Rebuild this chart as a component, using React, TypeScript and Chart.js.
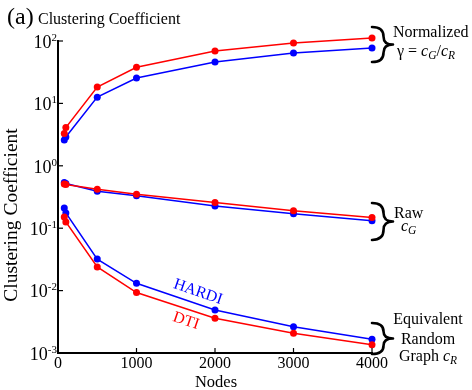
import React, { useEffect, useRef } from "react";
import { Chart, registerables } from "chart.js";

Chart.register(...registerables);

const nodes = [80, 100, 500, 1000, 2000, 3000, 4000];
const dtiNormalized = [3.3, 4.1, 18.3, 38, 69, 93, 112];
const hardiNormalized = [2.6, 2.9, 12.6, 25.5, 46, 64, 77];
const dtiRaw = [0.51, 0.5, 0.42, 0.35, 0.257, 0.19, 0.149];
const hardiRaw = [0.54, 0.52, 0.39, 0.33, 0.227, 0.171, 0.132];
const dtiRandom = [0.151, 0.126, 0.0239, 0.0093, 0.0036, 0.00207, 0.00136];
const hardiRandom = [0.21, 0.175, 0.032, 0.0131, 0.0049, 0.00264, 0.00166];

const yTickValues = [100, 10, 1, 0.1, 0.01, 0.001];
const yTickExponents = ["2", "1", "0", "-1", "-2", "-3"];
const xTickValues = [0, 1000, 2000, 3000, 4000];

const RED = "#ff0000";
const BLUE = "#0000ff";
const SERIF = '"Liberation Serif", "Times New Roman", serif';

const toPts = (ys: number[]) => nodes.map((x, i) => ({ x, y: ys[i] }));

function mkSet(label: string, ys: number[], color: string) {
  return {
    label,
    data: toPts(ys),
    borderColor: color,
    backgroundColor: color,
    borderWidth: 1.5,
    pointRadius: 3.5,
    pointHoverRadius: 3.5,
    pointBorderWidth: 0,
    showLine: true,
    tension: 0,
    clip: false as any,
  };
}

function drawBrace(ctx: CanvasRenderingContext2D, x: number, top: number, bottom: number, w: number) {
  const mid = (top + bottom) / 2;
  const h = (bottom - top) / 2;
  ctx.save();
  ctx.strokeStyle = "#000";
  ctx.lineWidth = 2.6;
  ctx.lineCap = "round";
  ctx.lineJoin = "round";
  ctx.beginPath();
  ctx.moveTo(x, top);
  ctx.bezierCurveTo(x + w * 0.45, top, x + w * 0.55, top + h * 0.25, x + w * 0.55, top + h * 0.55);
  ctx.bezierCurveTo(x + w * 0.55, mid - h * 0.12, x + w * 0.75, mid, x + w, mid);
  ctx.bezierCurveTo(x + w * 0.75, mid, x + w * 0.55, mid + h * 0.12, x + w * 0.55, bottom - h * 0.55);
  ctx.bezierCurveTo(x + w * 0.55, bottom - h * 0.25, x + w * 0.45, bottom, x, bottom);
  ctx.stroke();
  ctx.restore();
}

function drawRich(
  ctx: CanvasRenderingContext2D,
  parts: { t: string; it?: boolean; sub?: boolean }[],
  x: number,
  y: number,
  size: number,
  align: "left" | "center" = "left"
) {
  const fontFor = (p: { it?: boolean; sub?: boolean }) =>
    `${p.it ? "italic " : ""}${p.sub ? size * 0.72 : size}px ${SERIF}`;
  let total = 0;
  for (const p of parts) {
    ctx.font = fontFor(p);
    total += ctx.measureText(p.t).width;
  }
  let cx = align === "center" ? x - total / 2 : x;
  ctx.textAlign = "left";
  ctx.textBaseline = "middle";
  for (const p of parts) {
    ctx.font = fontFor(p);
    ctx.fillText(p.t, cx, p.sub ? y + size * 0.25 : y);
    cx += ctx.measureText(p.t).width;
  }
}

const decorPlugin = {
  id: "decor",
  afterDraw(chart: any) {
    const ctx: CanvasRenderingContext2D = chart.ctx;
    const xs = chart.scales.x;
    const ys = chart.scales.y;
    const area = chart.chartArea;
    ctx.save();
    ctx.fillStyle = "#000";
    ctx.strokeStyle = "#000";
    ctx.lineWidth = 1.2;

    yTickValues.forEach((v, i) => {
      const py = ys.getPixelForValue(v);
      ctx.beginPath();
      ctx.moveTo(area.left, py);
      ctx.lineTo(area.left + 5, py);
      ctx.stroke();
      ctx.font = `11px ${SERIF}`;
      const ew = ctx.measureText(yTickExponents[i]).width;
      ctx.textAlign = "left";
      ctx.textBaseline = "middle";
      ctx.fillText(yTickExponents[i], area.left - 1 - ew, py - 3);
      ctx.font = `18px ${SERIF}`;
      ctx.textAlign = "right";
      ctx.fillText("10", area.left - 1 - ew, py + 2);
    });

    xTickValues.forEach((v) => {
      const px = xs.getPixelForValue(v);
      ctx.beginPath();
      ctx.moveTo(px, area.bottom);
      ctx.lineTo(px, area.bottom - 5);
      ctx.stroke();
      ctx.font = `16px ${SERIF}`;
      ctx.textAlign = "center";
      ctx.textBaseline = "middle";
      ctx.fillText(String(v), px, area.bottom + 11);
    });

    ctx.font = `16.5px ${SERIF}`;
    ctx.textAlign = "center";
    ctx.fillText("Nodes", 216, 383);
    ctx.save();
    ctx.translate(12, 215);
    ctx.rotate(-Math.PI / 2);
    ctx.font = `19.5px ${SERIF}`;
    ctx.fillText("Clustering Coefficient", 0, 0);
    ctx.restore();

    ctx.textAlign = "left";
    ctx.font = `24px ${SERIF}`;
    ctx.fillText("(a)", 7, 18);
    ctx.font = `16px ${SERIF}`;
    ctx.fillText("Clustering Coefficient", 38, 20);

    drawBrace(ctx, 372, 27, 62, 21);
    drawBrace(ctx, 372, 203, 240, 21);
    drawBrace(ctx, 372, 323, 354, 21);

    ctx.fillStyle = "#000";
    drawRich(ctx, [{ t: "Normalized" }], 393, 33, 16);
    drawRich(
      ctx,
      [
        { t: "\u03b3 = " },
        { t: "c", it: true },
        { t: "G", it: true, sub: true },
        { t: "/" },
        { t: "c", it: true },
        { t: "R", it: true, sub: true },
      ],
      397,
      52,
      16
    );
    drawRich(ctx, [{ t: "Raw" }], 394, 214, 16);
    drawRich(ctx, [{ t: "c", it: true }, { t: "G", it: true, sub: true }], 401, 227, 16);
    drawRich(ctx, [{ t: "Equivalent" }], 428, 320, 16, "center");
    drawRich(ctx, [{ t: "Random" }], 428, 340, 16, "center");
    drawRich(
      ctx,
      [{ t: "Graph " }, { t: "c", it: true }, { t: "R", it: true, sub: true }],
      428,
      357,
      16,
      "center"
    );

    const rot = (19 * Math.PI) / 180;
    ctx.textAlign = "center";
    ctx.textBaseline = "middle";
    ctx.font = `16px ${SERIF}`;
    ctx.save();
    ctx.translate(198, 292);
    ctx.rotate(rot);
    ctx.fillStyle = BLUE;
    ctx.fillText("HARDI", 0, 0);
    ctx.restore();
    ctx.save();
    ctx.translate(186, 321);
    ctx.rotate(rot);
    ctx.fillStyle = RED;
    ctx.fillText("DTI", 0, 0);
    ctx.restore();

    ctx.restore();
  },
};

export default function App() {
  const ref = useRef<HTMLCanvasElement | null>(null);
  useEffect(() => {
    if (!ref.current) return;
    const chart = new Chart(ref.current, {
      type: "scatter",
      data: {
        datasets: [
          mkSet("DTI normalized", dtiNormalized, RED),
          mkSet("DTI raw", dtiRaw, RED),
          mkSet("DTI random", dtiRandom, RED),
          mkSet("HARDI normalized", hardiNormalized, BLUE),
          mkSet("HARDI raw", hardiRaw, BLUE),
          mkSet("HARDI random", hardiRandom, BLUE),
        ],
      },
      options: {
        responsive: false,
        animation: false,
        layout: { padding: { left: 58, right: 100, top: 41, bottom: 37 } },
        plugins: { legend: { display: false }, tooltip: { enabled: false } },
        scales: {
          x: {
            type: "linear",
            min: 0,
            max: 4000,
            ticks: { display: false },
            grid: { display: false },
            border: { display: true, color: "#000", width: 2 },
            afterFit: (s: any) => {
              s.height = 0;
            },
          },
          y: {
            type: "logarithmic",
            min: 0.001,
            max: 100,
            ticks: { display: false },
            grid: { display: false },
            border: { display: true, color: "#000", width: 2 },
            afterFit: (s: any) => {
              s.width = 0;
            },
          },
        },
      },
      plugins: [decorPlugin],
    });
    return () => chart.destroy();
  }, []);
  return (
    <div style={{ position: "fixed", left: 0, top: 0, width: 472, height: 390, background: "#fff" }}>
      <canvas ref={ref} width={472} height={390} />
    </div>
  );
}
